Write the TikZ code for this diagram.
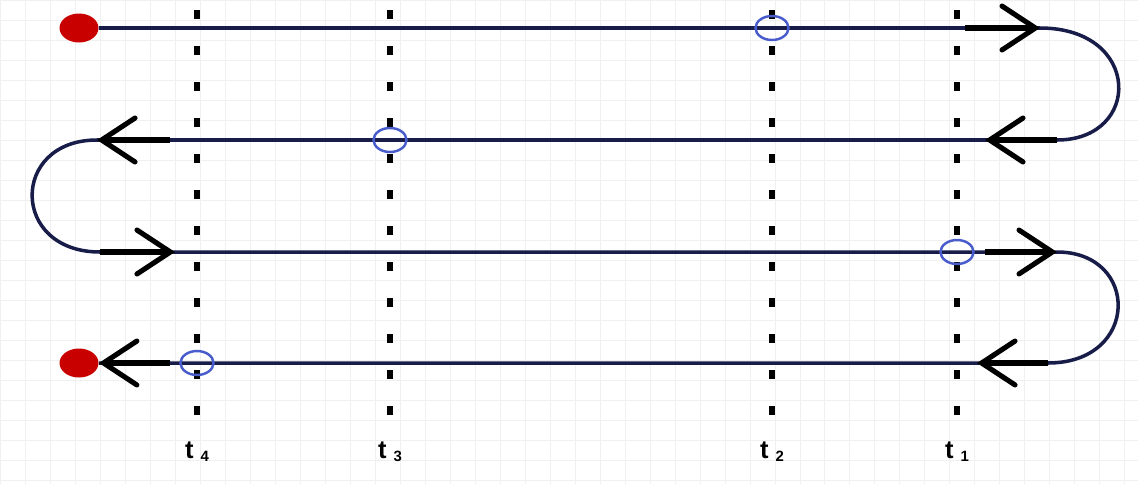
\documentclass[tikz,border=0pt]{standalone}
\usepackage{fontspec}
\newfontfamily\labfont{Liberation Sans}
\usetikzlibrary{arrows.meta,shapes.geometric}
\definecolor{navyline}{RGB}{24,28,72}
\definecolor{hitblue}{RGB}{72,92,204}
\definecolor{dotred}{RGB}{200,0,0}
\begin{document}
\begin{tikzpicture}[x=0.02cm, y=-0.02cm,
  gridline/.style={draw=black!6, line width=0.4pt},
  lane/.style={draw=navyline, line width=2pt},
  barb/.style={black, line width=2.9pt, -{Straight Barb[length=19pt, width=25pt, line cap=round]}},
  timeline/.style={black, line width=3.2pt, dash pattern=on 5pt off 15.5pt},
  hit/.style={ellipse, draw=hitblue, line width=1.4pt, minimum width=0.66cm, minimum height=0.48cm, inner sep=0pt},
  enddot/.style={ellipse, fill=dotred, minimum width=0.78cm, minimum height=0.58cm, inner sep=0pt},
  tlab/.style={font=\labfont\bfseries, anchor=base, inner sep=0pt}]
  \useasboundingbox (0,0) rectangle (1138,484);
  \draw[gridline, xstep=0.5cm, ystep=0.4cm] (0,0) grid (1138,484);
  \foreach \n/\x in {1/957,2/772,3/390,4/197}{
    \coordinate (top\n) at (\x,10);
    \coordinate (bot\n) at (\x,416);
    \draw[timeline] (top\n) -- (bot\n);
    \node[tlab] (t\n) at (\x,458) {{\fontsize{14.5}{16}\selectfont t}\hspace{4pt}\raisebox{-2.2pt}{\fontsize{8.5}{10}\selectfont\n}};
  }
  \node[enddot] (start) at (79,28) {};
  \node[enddot] (finish) at (79,363) {};
  \coordinate (e1) at (1040,28);
  \coordinate (e2) at (1057,140);
  \coordinate (w2) at (97,140);
  \coordinate (w3) at (100,252);
  \coordinate (e3) at (1057,252);
  \coordinate (e4) at (1048,363);
  \draw[lane] (start) -- (e1) .. controls (1142,28) and (1142,140) .. (e2) -- (w2)
    .. controls (10,140) and (10,252) .. (w3) -- (e3)
    .. controls (1140,252) and (1140,363) .. (e4) -- (finish);
  \coordinate (a1) at (965,28);
  \coordinate (a2) at (985,140);
  \coordinate (b2) at (170,140);
  \coordinate (a3) at (175,252);
  \coordinate (b3) at (985,252);
  \coordinate (a4) at (977,363);
  \coordinate (b4) at (170,363);
  \draw[barb] (a1) -- (e1);
  \draw[barb] (e2) -- (a2);
  \draw[barb] (b2) -- (w2);
  \draw[barb] (w3) -- (a3);
  \draw[barb] (b3) -- (e3);
  \draw[barb] (e4) -- (a4);
  \draw[barb] (b4) -- (finish);
  \node[hit] (c1) at (957,252) {};
  \node[hit] (c2) at (772,28) {};
  \node[hit] (c3) at (390,140) {};
  \node[hit] (c4) at (197,363) {};
\end{tikzpicture}
\end{document}
